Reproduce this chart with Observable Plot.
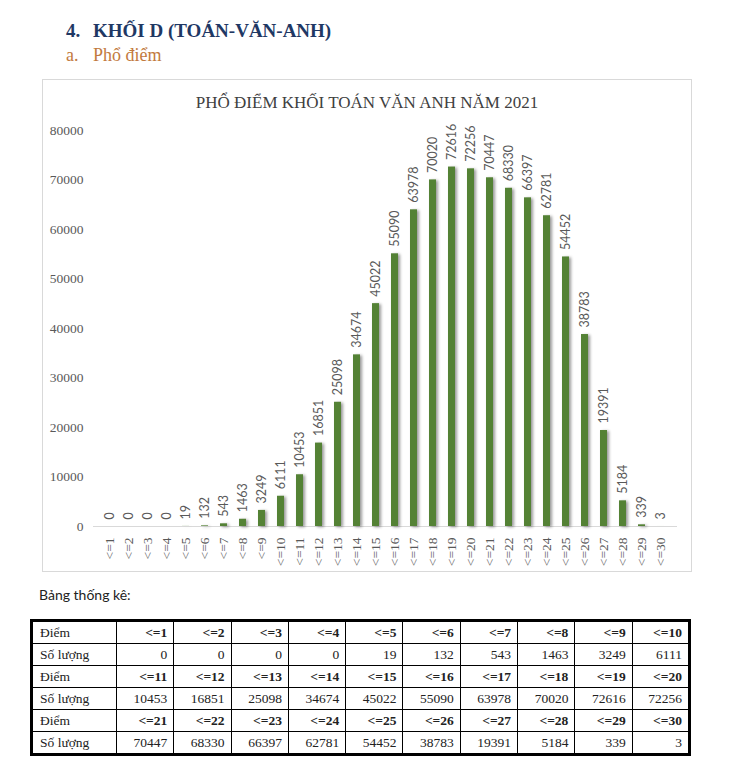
<!DOCTYPE html>
<html>
<head>
<meta charset="utf-8">
<script src="https://cdn.jsdelivr.net/npm/d3@7"></script>
<script src="https://cdn.jsdelivr.net/npm/@observablehq/plot@0.6"></script>
<style>
  html, body { margin: 0; padding: 0; background: #fff; }
  body { width: 730px; height: 774px; position: relative; overflow: hidden; font-family: "Liberation Serif", serif; }
  #h1 { position: absolute; left: 66px; top: 20px; font: bold 19px "Liberation Serif", serif; color: #1f3864; white-space: nowrap; }
  #h1 span.n, #h2 span.n { display: inline-block; width: 27px; }
  #h2 { position: absolute; left: 66px; top: 45px; font: 18px "Liberation Serif", serif; color: #c27a3e; white-space: nowrap; }
  #box { position: absolute; left: 42px; top: 79px; width: 650px; height: 493px; box-sizing: border-box; border: 1px solid #d9d9d9; }
  #chart { position: absolute; left: 42px; top: 79px; }
  #title { position: absolute; left: 42px; top: 93px; width: 650px; text-align: center; font: 17px "Liberation Serif", serif; color: #404040; white-space: nowrap; }
  #tlabel { position: absolute; left: 39px; top: 587px; font: 14px Lato, sans-serif; line-height: 16px; color: #222; }
  #tbl { position: absolute; left: 30px; top: 619px; border-collapse: collapse; table-layout: fixed; width: 658px; border: 3px solid #000; font: 13.5px "Liberation Serif", serif; color: #222; }
  #tbl td { border: 1px solid #000; height: 21px; line-height: 21px; padding: 0 6px; text-align: right; white-space: nowrap; }
  #tbl td.lab { text-align: left; padding-left: 7px; }
  #tbl tr.hd td:not(.lab) { font-weight: bold; }
</style>
</head>
<body>
<div id="h1"><span class="n">4.</span>KHỐI D (TOÁN-VĂN-ANH)</div>
<div id="h2"><span class="n">a.</span>Phổ điểm</div>
<div id="box"></div>
<div id="chart"></div>
<div id="title">PHỔ ĐIỂM KHỐI TOÁN VĂN ANH NĂM 2021</div>
<div id="tlabel">Bảng thống kê:</div>
<table id="tbl"></table>
<script>
const categories = ["<=1","<=2","<=3","<=4","<=5","<=6","<=7","<=8","<=9","<=10",
  "<=11","<=12","<=13","<=14","<=15","<=16","<=17","<=18","<=19","<=20",
  "<=21","<=22","<=23","<=24","<=25","<=26","<=27","<=28","<=29","<=30"];
const counts = [0,0,0,0,19,132,543,1463,3249,6111,
  10453,16851,25098,34674,45022,55090,63978,70020,72616,72256,
  70447,68330,66397,62781,54452,38783,19391,5184,339,3];
const yTicks = [0,10000,20000,30000,40000,50000,60000,70000,80000];
const rowLabelScore = "Điểm";
const rowLabelCount = "Số lượng";

const data = categories.map((c, i) => ({cat: c, n: counts[i]}));

const chart = Plot.plot({
  width: 650,
  height: 493,
  marginTop: 51,
  marginBottom: 46,
  marginLeft: 51,
  marginRight: 15,
  style: {background: "transparent", overflow: "visible", fontFamily: "Liberation Serif"},
  x: {type: "band", domain: categories, paddingInner: 0.62, paddingOuter: 0.31, axis: null},
  y: {domain: [0, 80000], axis: null},
  marks: [
    Plot.axisY(yTicks, {tickSize: 0, tickPadding: 10, tickFormat: d => String(d), fill: "#595959", fontSize: 13.5, fontFamily: "Liberation Serif", label: null}),
    Plot.ruleY([0], {stroke: "#d9d9d9", strokeWidth: 1}),
    Plot.barY(data, {x: "cat", y: "n", fill: "#548235"}),
    Plot.text(data, {x: "cat", y: "n", text: d => String(d.n), rotate: -90, textAnchor: "start", lineAnchor: "middle", dy: -7, fill: "#595959", fontSize: 12.5, fontFamily: "Lato"}),
    Plot.text(data, {x: "cat", frameAnchor: "bottom", text: "cat", rotate: -90, textAnchor: "end", lineAnchor: "middle", dy: 11, fill: "#595959", fontSize: 13.5, fontFamily: "Liberation Serif"})
  ]
});
const barG = chart.querySelector('g[aria-label="bar"]');
if (barG) barG.style.filter = "drop-shadow(2.5px 1px 1.5px rgba(0,0,0,0.4))";
document.getElementById("chart").appendChild(chart);

// statistics table built from the same arrays
const tbl = document.getElementById("tbl");
const cg = document.createElement("colgroup");
const c0 = document.createElement("col"); c0.style.width = "85px"; cg.appendChild(c0);
for (let j = 0; j < 10; j++) { const c = document.createElement("col"); c.style.width = "57.3px"; cg.appendChild(c); }
tbl.appendChild(cg);
for (let r = 0; r < 3; r++) {
  const tr1 = document.createElement("tr"); tr1.className = "hd";
  const tr2 = document.createElement("tr");
  const l1 = document.createElement("td"); l1.className = "lab"; l1.textContent = rowLabelScore; tr1.appendChild(l1);
  const l2 = document.createElement("td"); l2.className = "lab"; l2.textContent = rowLabelCount; tr2.appendChild(l2);
  for (let j = 0; j < 10; j++) {
    const i = r * 10 + j;
    const a = document.createElement("td"); a.textContent = categories[i]; tr1.appendChild(a);
    const b = document.createElement("td"); b.textContent = String(counts[i]); tr2.appendChild(b);
  }
  tbl.appendChild(tr1); tbl.appendChild(tr2);
}
</script>
</body>
</html>
